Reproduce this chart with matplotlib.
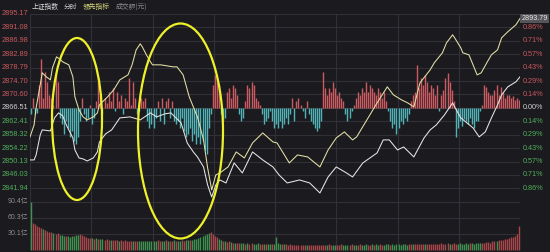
import matplotlib
matplotlib.use('Agg')
import matplotlib.pyplot as plt
from matplotlib.patches import Ellipse

# 昨收与纵轴刻度
prev_close = 2866.51
price_ticks = [2895.17, 2891.08, 2886.98, 2882.89, 2878.79, 2874.70, 2870.60,
               2866.51, 2862.41, 2858.32, 2854.22, 2850.13, 2846.03, 2841.94]
pct_labels = ['0.86%', '0.71%', '0.57%', '0.43%', '0.29%', '0.14%', '0.00%',
              '0.14%', '0.29%', '0.43%', '0.57%', '0.71%', '0.86%']
price_low, price_high = 2837.84, 2895.17
last_price = 2893.79
vol_ticks = [30.1, 60.3, 90.4]
vol_labels = ['30.1亿', '60.3亿', '90.4亿']
header = ['上证指数', '分时', '领先指标', '成交额(元)']

# 黄线(领先指标), 分钟从9:30起
lead_min = [0, 2, 3, 5, 6, 8, 10, 11, 13, 15, 16, 19, 21, 22, 24, 26, 28, 31, 33, 34,
            38, 41, 44, 48, 50, 52, 54, 55, 57, 59, 60, 64, 67, 70, 72, 75, 78, 82, 85, 87,
            89, 91, 93, 97, 101, 105, 109, 114, 119, 121, 124, 127, 131, 136, 139, 142, 146, 150, 154, 158,
            160, 165, 170, 175, 178, 182, 185, 188, 191, 196, 198, 202, 204, 207, 208, 211, 212, 215, 217, 219,
            221, 224, 226, 229, 231, 234, 238, 240]
lead_val = [2857.65, 2861.31, 2866.51, 2873.54, 2877.21, 2875.98, 2875.07, 2878.73, 2882.10, 2881.18,
            2880.57, 2879.65, 2875.98, 2869.87, 2865.90, 2863.76, 2862.84, 2863.76, 2864.98, 2867.43,
            2869.87, 2872.01, 2875.07, 2876.59, 2879.65, 2884.23, 2886.07, 2885.15, 2882.71, 2880.57,
            2879.65, 2879.65, 2879.35, 2879.04, 2879.04, 2876.59, 2869.87, 2863.76, 2856.73, 2848.17,
            2841.45, 2846.03, 2846.65, 2848.48, 2853.06, 2851.23, 2855.81, 2858.87, 2856.12, 2855.81,
            2852.76, 2849.70, 2852.15, 2851.54, 2850.01, 2848.48, 2853.67, 2857.34, 2859.18, 2856.73,
            2857.65, 2862.84, 2868.04, 2872.93, 2870.48, 2868.95, 2868.04, 2866.82, 2874.15, 2878.12,
            2880.26, 2883.32, 2886.37, 2888.82, 2887.90, 2884.85, 2883.32, 2882.71, 2879.65, 2876.59,
            2877.21, 2880.57, 2882.71, 2884.23, 2887.90, 2889.74, 2891.87, 2893.79]

# 白线(指数)
index_min = [0, 2, 3, 5, 6, 10, 12, 14, 16, 18, 21, 22, 24, 26, 28, 31, 33, 34, 37, 40,
             44, 49, 54, 59, 62, 66, 69, 74, 77, 80, 82, 85, 87, 89, 91, 93, 96, 100, 104, 109,
             114, 119, 122, 126, 132, 137, 142, 146, 150, 155, 158, 163, 170, 173, 176, 180, 183, 188, 193, 196,
             199, 203, 207, 208, 211, 214, 217, 220, 223, 226, 229, 231, 234, 238, 240]
index_val = [2850.62, 2850.62, 2852.15, 2858.26, 2859.79, 2859.48, 2863.45, 2864.98, 2864.07, 2861.01,
             2857.34, 2853.67, 2851.23, 2850.92, 2850.31, 2851.23, 2853.06, 2856.12, 2858.56, 2859.79,
             2863.45, 2863.76, 2862.84, 2864.98, 2863.76, 2864.68, 2864.98, 2861.93, 2855.81, 2853.06,
             2851.54, 2848.48, 2842.98, 2839.31, 2842.98, 2844.51, 2843.59, 2849.70, 2846.65, 2853.06,
             2850.62, 2848.48, 2846.03, 2843.59, 2844.51, 2843.59, 2840.53, 2845.42, 2848.48, 2846.65,
             2845.42, 2849.70, 2852.76, 2856.73, 2856.73, 2853.67, 2854.59, 2851.54, 2857.34, 2859.79,
             2861.31, 2864.37, 2868.04, 2866.82, 2863.45, 2861.93, 2860.40, 2857.65, 2859.18, 2863.45,
             2867.43, 2870.48, 2872.93, 2874.46, 2875.98]

# 红绿柱 (相对昨收的点数), 每分钟一根
strength = [-2, 3, -2, -1.5, 7, 15, 3, 11, 8, 4, 3, 1, 11, 8, -3, -5, -8, -4, -6, -9,
            -7, -10, -11, -9, -4, 3, -2, -4, -3, 1, -5, -3, 2, 9, 4, -2, 3, 1.5, 5, 2,
            6, -1, 5, 2, 4, -2, 3, 2, 9, 1, 8, 3, -2, -1, 3, 2, 3, -4, -6, -5,
            -6, -3, 2, -4, 3, -5, 2, 3, -3, 2, -4, -5, -4, -6, -3, -7, -9, -8, -6, -10,
            -8, -11, -9, -11, -10, -13, -14, -6, -2, 7, 10, 9, 7, -2, -4, -3, 5, 6, 3, 7,
            6, 4, -2, -4, -3, 2, 7, 6, 8, 7, 3, 2, 1, -2, -5, -4, -3, -1, -4, -6,
            -5, -6, -4, -6, -5, -3, -5, -2, 3, -4, 2, 3, 1, -1, -3, 2, -2, -4, -5, -6,
            -7, -6, -4, 11, 6, 4, 6, 5, 8, 6, 4, 5, 3, 2, -2, -4, -3, -1, 1, 3,
            5, 4, 6, 5, 8, 5, 7, 6, 5, 4, 6, 5, 3, 5, 2, -1, -4, -6, -5, -8,
            -6, -4, -5, -3, -4, -2, 2, 4, 5, 13, 6, 9, 7, 10, 8, 5, 7, 6, 4, 7,
            -1, 4, 5.5, 9, 10.5, 8, 5.5, 2, -9, -6, -4, -5.5, -3.5, -4, -5, -3, -5, -6, -4, -4,
            -1, 1, 7, 6.5, 5, 4, 4, 5.5, 7, 4, 6.5, 5, 3, 4, 4, 3, 3.5, 2.5, 3, 2.5][:240]

# 成交额 (亿元)
volume = [90, 50, 48, 45, 43, 41, 40, 37, 35, 34, 33, 31, 30, 31, 29, 28, 27, 26, 27, 25,
          26, 27, 28, 29, 30, 29, 27, 24, 23, 22, 22, 21, 22, 20, 21, 20, 19, 20, 19, 18,
          18, 19, 18, 17, 18, 17, 18, 17, 16, 17, 16, 17, 16, 17, 16, 16, 17, 16, 17, 16,
          17, 16, 18, 17, 16, 17, 18, 17, 16, 17, 18, 17, 16, 17, 18, 17, 18, 19, 18, 19,
          20, 21, 22, 24, 26, 28, 30, 31, 33, 30, 27, 24, 20, 18, 17, 16, 15, 16, 15, 14,
          14, 13, 14, 13, 13, 12, 13, 12, 13, 12, 12, 13, 12, 12, 11, 12, 12, 11, 12, 11,
          24, 13, 12, 11, 12, 11, 10, 11, 10, 10, 9, 10, 9, 10, 9, 9, 10, 9, 10, 9,
          10, 9, 10, 10, 9, 10, 11, 10, 10, 9, 10, 10, 11, 10, 9, 10, 10, 11, 10, 10,
          10, 11, 10, 10, 11, 10, 10, 11, 10, 11, 10, 11, 10, 10, 11, 11, 10, 11, 10, 11,
          11, 10, 11, 11, 10, 11, 11, 12, 11, 12, 11, 12, 11, 12, 12, 11, 12, 12, 11, 12,
          12, 13, 12, 12, 13, 12, 12, 13, 12, 12, 13, 12, 12, 13, 12, 13, 13, 12, 13, 13,
          13, 14, 14, 15, 15, 14, 16, 16, 17, 18, 18, 19, 20, 21, 22, 24, 25, 27, 30, 45]
vol_dir = ('grrrrrgrrrrgrrgggrgg' 'ggggrrrrrrgrgrggrrrg' 'rrrgrrrrrrgrrggggggg'
           'ggrrggrgrrgrggrrggrg' 'ggggggggrrrrggrgrrgr' 'grrggrgrrgggrrgrggrg'
           'gggrgrrrrrrrrrrgrrrr' 'rrrrrgrrggrrrgggrrgg' 'rrgggrrgrggrrgggrggg'
           'gggggrrgrrrrrgrrrrrr' 'rrrrrgrrrggggggrgggg' 'grrrrrrrgrrrrrrrrrrr')

bg = '#1b1b1f'
grid_c = '#303036'
red_txt = '#c9585e'
green_txt = '#4fae5a'

fig = plt.figure(figsize=(5.5, 2.52), dpi=100, facecolor=bg)
W, H = 550, 252

def box(x0, y0, x1, y1):
    # 像素坐标 -> figure 坐标
    return [x0 / W, 1 - y1 / H, (x1 - x0) / W, (y1 - y0) / H]

num_font = ['Liberation Sans', 'Noto Sans CJK SC']

# 分时主图
ax = fig.add_axes(box(30, 14, 520, 201.8))
ax.set_facecolor('none')
ax.set_xlim(0, 240)
ax.set_ylim(price_low, price_high)
for s in ax.spines.values():
    s.set_visible(False)
ax.set_xticks([])
ax.set_yticks([])

for p in price_ticks:
    ax.axhline(p, color='#3a3a40' if p == prev_close else grid_c, lw=0.8, zorder=0)
for m in range(0, 241, 30):
    ax.axvline(m, color=grid_c, lw=0.8, zorder=0)

minutes = [m + 0.5 for m in range(len(strength))]
bar_cols = ['#cc5a60' if v > 0 else '#4fb3b8' for v in strength]
ax.vlines(minutes, prev_close, [prev_close + v for v in strength], colors=bar_cols,
          lw=1.0, zorder=1)

ax.plot(lead_min, lead_val, color='#e4e0a6', lw=0.75, zorder=3)
ax.plot(index_min, index_val, color='#e6e6e6', lw=0.75, zorder=3)

for p in price_ticks:
    c = red_txt if p > prev_close else (green_txt if p < prev_close else '#d0d0d0')
    ax.text(-0.003, p, '%.2f' % p, transform=ax.get_yaxis_transform(), ha='right',
            va='center', fontsize=5.3, color=c, family=num_font)
for p, lab in zip(price_ticks[1:], pct_labels):
    c = red_txt if p > prev_close else (green_txt if p < prev_close else '#d0d0d0')
    ax.text(1.006, p, lab, transform=ax.get_yaxis_transform(), ha='left',
            va='center', fontsize=5.2, color=c, family=num_font)
ax.text(1.003, last_price, '%.2f' % last_price, transform=ax.get_yaxis_transform(),
        ha='left', va='center', fontsize=5.2, color='#e8e8e8', family=num_font,
        bbox=dict(boxstyle='square,pad=0.15', fc='#55555a', ec='none'))

# 成交额副图
vax = fig.add_axes(box(30, 201.7, 520, 250))
vax.set_facecolor('none')
vax.set_xlim(0, 240)
vax.set_ylim(0, vol_ticks[-1])
for s in vax.spines.values():
    s.set_visible(False)
vax.set_xticks([])
vax.set_yticks([])
for v in vol_ticks:
    vax.axhline(v, color=grid_c, lw=0.8, zorder=0)
for m in range(0, 241, 30):
    vax.axvline(m, color=grid_c, lw=0.8, zorder=0)
vol_cols = ['#a8464b' if d == 'r' else '#3f9150' for d in vol_dir]
vax.vlines([m + 0.5 for m in range(len(volume))], 0, volume, colors=vol_cols,
           lw=1.0, clip_on=False)
for v, lab in zip(vol_ticks, vol_labels):
    vax.text(-0.003, v, lab, transform=vax.get_yaxis_transform(), ha='right',
             va='center', fontsize=5.0, color='#8e8e8e', family=num_font)

# 覆盖层: 标题和手画的黄圈
ov = fig.add_axes([0, 0, 1, 1], facecolor='none')
ov.set_xlim(0, W)
ov.set_ylim(H, 0)
ov.axis('off')
head_x = [32, 64, 83, 116]
head_c = ['#dcdcdc', '#c8c8c8', '#d8d87c', '#8c8c8c']
for x, t, c in zip(head_x, header, head_c):
    ov.text(x, 6.5, t, fontsize=4.9, color=c, va='center', family=['Noto Sans CJK SC', 'DejaVu Sans'])
ov.add_patch(Ellipse((77, 119), 50, 162, fill=False, ec='#eef02a', lw=1.6))
ov.add_patch(Ellipse((180.5, 131), 85, 215, fill=False, ec='#eef02a', lw=1.6))

fig.savefig('out.png', dpi=100, facecolor=bg)
